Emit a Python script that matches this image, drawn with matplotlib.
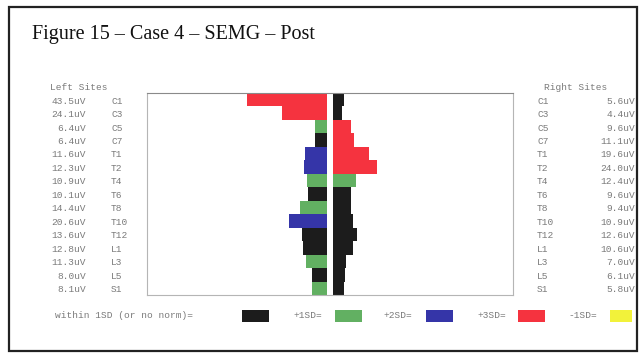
import matplotlib.pyplot as plt
import matplotlib.transforms as mtransforms
from matplotlib.patches import Rectangle
import numpy as np

# Muestras SEMG por segmento (uV)
sites = ['C1', 'C3', 'C5', 'C7', 'T1', 'T2', 'T4', 'T6', 'T8', 'T10', 'T12', 'L1', 'L3', 'L5', 'S1']
left_uv = [43.5, 24.1, 6.4, 6.4, 11.6, 12.3, 10.9, 10.1, 14.4, 20.6, 13.6, 12.8, 11.3, 8.0, 8.1]
right_uv = [5.6, 4.4, 9.6, 11.1, 19.6, 24.0, 12.4, 9.6, 9.4, 10.9, 12.6, 10.6, 7.0, 6.1, 5.8]
# nivel respecto a la norma: 0 = dentro de 1SD, 1 = +1SD, 2 = +2SD, 3 = +3SD, -1 = -1SD
left_level = [3, 3, 1, 0, 2, 2, 1, 0, 1, 2, 0, 0, 1, 0, 1]
right_level = [0, 0, 3, 3, 3, 3, 1, 0, 0, 0, 0, 0, 0, 0, 0]

legend_labels = ['within 1SD (or no norm)=', '+1SD=', '+2SD=', '+3SD=', '-1SD=']
legend_levels = [0, 1, 2, 3, -1]

colores = {0: '#1c1c1c', 1: '#62b062', 2: '#3535a8', 3: '#f5333f', -1: '#f2f23a'}
gap = 1.9
texto_gris = '#7a7a7a'
mono = 'Liberation Mono'

fig = plt.figure(figsize=(6.43, 3.54), dpi=100)
W, H = 643, 354

def fx(px):
    return px / W

def fy(py):
    return 1 - py / H

# marco exterior
fig.patches.append(Rectangle((fx(9), fy(351)), fx(637) - fx(9), fy(7) - fy(351),
                             transform=fig.transFigure, fill=False,
                             edgecolor='#222222', linewidth=1.6))

fig.text(fx(32), fy(34), 'Figure 15 \u2013 Case 4 \u2013 SEMG \u2013 Post',
         family='Liberation Serif', fontsize=14.5, color='#111111', va='center')

ax = fig.add_axes([fx(147), fy(295), fx(513) - fx(147), fy(93) - fy(295)])
y = np.arange(len(sites))
lc = [colores[l] for l in left_level]
rc = [colores[l] for l in right_level]
ax.barh(y, -np.array(left_uv), left=-gap, height=1.0, color=lc, linewidth=0)
ax.barh(y, right_uv, left=gap, height=1.0, color=rc, linewidth=0)
ax.set_xlim(-100, 100)
ax.set_ylim(len(sites) - 0.5, -0.5)
ax.set_xticks([])
ax.set_yticks([])
for s in ax.spines.values():
    s.set_color('#b5b5b5')
    s.set_linewidth(0.8)
ax.spines['top'].set_color('#8a8a8a')

# etiquetas de sitios y valores
tr = mtransforms.blended_transform_factory(fig.transFigure, ax.transData)
fig.text(fx(50), fy(87), 'Left Sites', family=mono, fontsize=6.8, color=texto_gris, va='center')
fig.text(fx(544), fy(87), 'Right Sites', family=mono, fontsize=6.8, color=texto_gris, va='center')
for i, s in enumerate(sites):
    ax.text(fx(86), i + 0.1, f'{left_uv[i]:.1f}uV', transform=tr, family=mono, fontsize=6.8,
            color=texto_gris, ha='right', va='center')
    ax.text(fx(111), i + 0.1, s, transform=tr, family=mono, fontsize=6.8,
            color=texto_gris, ha='left', va='center')
    ax.text(fx(537), i + 0.1, s, transform=tr, family=mono, fontsize=6.8,
            color=texto_gris, ha='left', va='center')
    ax.text(fx(635), i + 0.1, f'{right_uv[i]:.1f}uV', transform=tr, family=mono, fontsize=6.8,
            color=texto_gris, ha='right', va='center')

# leyenda inferior
text_x = [55, 293, 383, 477, 568]
box_x = [(242, 269), (335, 362), (426, 453), (518, 545), (610, 632)]
for lab, lvl, tx, (b0, b1) in zip(legend_labels, legend_levels, text_x, box_x):
    fig.text(fx(tx), fy(316), lab, family=mono, fontsize=6.8, color=texto_gris, va='center')
    fig.patches.append(Rectangle((fx(b0), fy(322)), fx(b1) - fx(b0), fy(310) - fy(322),
                                 transform=fig.transFigure, color=colores[lvl], linewidth=0))

plt.savefig('out.png', dpi=100)
